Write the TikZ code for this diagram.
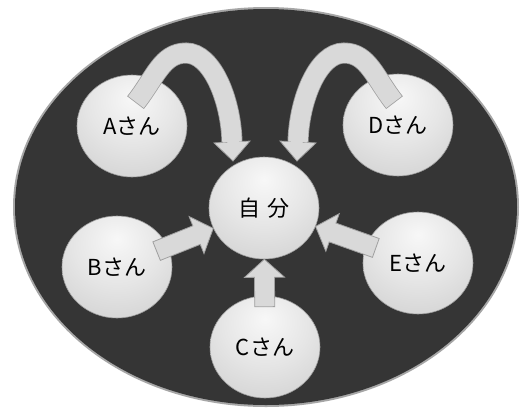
\documentclass[tikz,border=0pt]{standalone}
\usepackage{fontspec}
\setmainfont{Noto Sans CJK JP}
\usetikzlibrary{calc,shapes.geometric}
\definecolor{bgdark}{HTML}{353535}
\definecolor{arrowfill}{HTML}{D9D9D9}
\definecolor{arrowedge}{HTML}{A0A0A0}
\pgfdeclareradialshading{bubble}{\pgfpoint{0bp}{14bp}}{color(0bp)=(white!97!black); color(20bp)=(white!90!black); color(42bp)=(white!81!black); color(54bp)=(white!66!black); color(100bp)=(white!55!black)}
\newcommand\blockarrow[3]{%
  \path (#1) -- (#2) coordinate[pos=0] (ba-s) coordinate[pos=1] (ba-h);
  \path ($(ba-s)!-#3!(ba-h)$) coordinate (ba-t) ($(ba-h)!18pt!(ba-s)$) coordinate (ba-b);
  \filldraw[arrowbody] ($(ba-t)!10pt!90:(ba-h)$) -- ($(ba-b)!10pt!90:(ba-h)$) -- ($(ba-b)!20pt!90:(ba-h)$) -- (ba-h) -- ($(ba-b)!20pt!-90:(ba-h)$) -- ($(ba-b)!10pt!-90:(ba-h)$) -- ($(ba-t)!10pt!-90:(ba-h)$) -- cycle;
}
\newcommand\arrowhead[2]{%
  \fill[arrowfill] ($(#1)!18pt!90:(#2)$) -- (#2) -- ($(#1)!18pt!-90:(#2)$) -- cycle;
  \draw[arrowedge, line width=0.8pt, line join=miter] ($(#1)!9.8pt!90:(#2)$) -- ($(#1)!18pt!90:(#2)$) -- (#2) -- ($(#1)!18pt!-90:(#2)$) -- ($(#1)!9.8pt!-90:(#2)$);
}
\begin{document}
\begin{tikzpicture}[x=1pt,y=-1pt,
  person/.style={ellipse, minimum width=110pt, minimum height=102pt, shading=bubble,
    draw=white!62!black, line width=0.6pt, inner sep=0pt,
    font=\fontsize{22}{24}\selectfont, text=black},
  arrowbody/.style={fill=arrowfill, draw=arrowedge, line width=0.8pt, line join=miter},
  shaftedge/.style={draw=arrowedge, line width=21pt},
  shaftfill/.style={draw=arrowfill, line width=19.4pt}]
\useasboundingbox (0,0) rectangle (520,408);
\fill[white] (0,0) rectangle (520,408);
\fill[black!35] (266,207) ellipse [x radius=253, y radius=200];
\fill[bgdark] (266,207) ellipse [x radius=251, y radius=198];

\node[person] (me) at (264,208) {自\hspace{7pt}分};
\node[person] (A) at (132,126) {Aさん};
\node[person] (D) at (398,125) {Dさん};
\node[person] (B) at (117,267) {Bさん};
\node[person] (E) at (418,263) {Eさん};
\node[person] (C) at (265,347) {Cさん};

\blockarrow{B}{me}{12pt}
\blockarrow{E}{me}{10pt}
\blockarrow{C}{me}{11pt}

\coordinate (Atail) at (136,102);
\coordinate (Abase) at (232,142);
\coordinate (Ahead) at (233,161);
\draw[shaftedge, shorten <=-0.8pt] (Atail) .. controls (155,78) and (162,53) .. (186,53) .. controls (212,53) and (231,100) .. (Abase);
\draw[shaftfill] (Atail) .. controls (155,78) and (162,53) .. (186,53) .. controls (212,53) and (231,100) .. (Abase);
\arrowhead{Abase}{Ahead}

\coordinate (Dtail) at (394,102);
\coordinate (Dbase) at (298,142);
\coordinate (Dhead) at (297,161);
\draw[shaftedge, shorten <=-0.8pt] (Dtail) .. controls (375,78) and (368,53) .. (344,53) .. controls (318,53) and (299,100) .. (Dbase);
\draw[shaftfill] (Dtail) .. controls (375,78) and (368,53) .. (344,53) .. controls (318,53) and (299,100) .. (Dbase);
\arrowhead{Dbase}{Dhead}
\end{tikzpicture}
\end{document}
